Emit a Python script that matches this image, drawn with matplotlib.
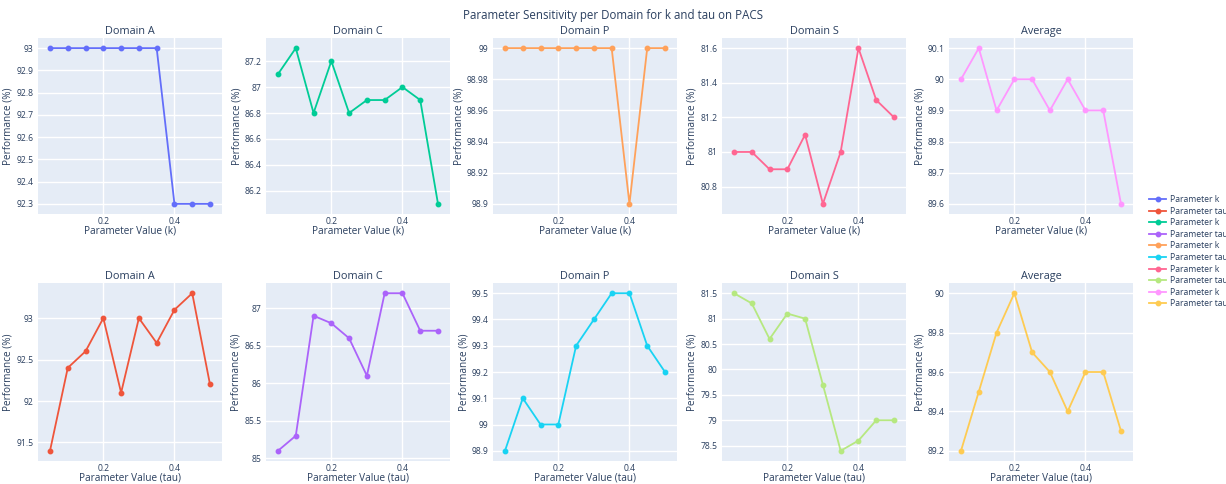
import matplotlib
matplotlib.use('Agg')
import matplotlib.pyplot as plt
from matplotlib.ticker import MultipleLocator, FuncFormatter

plt.rcParams['font.family'] = ['Open Sans', 'DejaVu Sans']

# valores dos parametros
param_x = [0.05, 0.10, 0.15, 0.20, 0.25, 0.30, 0.35, 0.40, 0.45, 0.50]
titulos = ['Domain A', 'Domain C', 'Domain P', 'Domain S', 'Average']

# linha de cima: parametro k
k_A = [93, 93, 93, 93, 93, 93, 93, 92.3, 92.3, 92.3]
k_C = [87.1, 87.3, 86.8, 87.2, 86.8, 86.9, 86.9, 87.0, 86.9, 86.1]
k_P = [99, 99, 99, 99, 99, 99, 99, 98.9, 99, 99]
k_S = [81, 81, 80.9, 80.9, 81.1, 80.7, 81, 81.6, 81.3, 81.2]
k_avg = [90, 90.1, 89.9, 90, 90, 89.9, 90, 89.9, 89.9, 89.6]

# linha de baixo: parametro tau
tau_A = [91.4, 92.4, 92.6, 93, 92.1, 93, 92.7, 93.1, 93.3, 92.2]
tau_C = [85.1, 85.3, 86.9, 86.8, 86.6, 86.1, 87.2, 87.2, 86.7, 86.7]
tau_P = [98.9, 99.1, 99, 99, 99.3, 99.4, 99.5, 99.5, 99.3, 99.2]
tau_S = [81.5, 81.3, 80.6, 81.1, 81, 79.7, 78.4, 78.6, 79, 79]
tau_avg = [89.2, 89.5, 89.8, 90, 89.7, 89.6, 89.4, 89.6, 89.6, 89.3]

dados_k = [k_A, k_C, k_P, k_S, k_avg]
dados_tau = [tau_A, tau_C, tau_P, tau_S, tau_avg]

cores_k = ['#636EFA', '#00CC96', '#FFA15A', '#FF6692', '#FF97FF']
cores_tau = ['#EF553B', '#AB63FA', '#19D3F3', '#B6E880', '#FECB52']

passo_k = [0.1, 0.2, 0.02, 0.2, 0.1]
passo_tau = [0.5, 0.5, 0.1, 0.5, 0.2]

texto = '#2a3f5f'
W, H = 1226, 484
fig = plt.figure(figsize=(W / 100, H / 100), dpi=100)

lefts = [38, 266, 493, 722, 949]
largura = 184
linhas = [(38, 214), (283, 461)]


def fmt(v, pos):
    s = f'{v:.4f}'.rstrip('0').rstrip('.')
    return s


handles = []
for i in range(5):
    for r, (dados, cores, passos, nome, xl) in enumerate([
            (dados_k, cores_k, passo_k, 'Parameter k', 'Parameter Value (k)'),
            (dados_tau, cores_tau, passo_tau, 'Parameter tau', 'Parameter Value (tau)')]):
        top, bot = linhas[r]
        ax = fig.add_axes([lefts[i] / W, 1 - bot / H, largura / W, (bot - top) / H])
        ax.set_facecolor('#E5ECF6')
        for s in ax.spines.values():
            s.set_visible(False)
        ln, = ax.plot(param_x, dados[i], color=cores[i], lw=1.3, marker='o',
                      markersize=3.2, label=nome)
        handles.append(ln)
        ax.margins(x=0.075, y=0.065)
        ax.xaxis.set_major_locator(MultipleLocator(0.2))
        ax.yaxis.set_major_locator(MultipleLocator(passos[i]))
        ax.xaxis.set_major_formatter(FuncFormatter(fmt))
        ax.yaxis.set_major_formatter(FuncFormatter(fmt))
        ax.grid(True, color='white', lw=1)
        ax.set_axisbelow(True)
        ax.tick_params(length=0, labelsize=6.2, colors=texto)
        ax.tick_params(axis='x', pad=2)
        ax.tick_params(axis='y', pad=3)
        ax.set_title(titulos[i], fontsize=7.8, color=texto, pad=3)
        ax.set_xlabel(xl, fontsize=7.2, color=texto, labelpad=0)
        ax.set_ylabel('Performance (%)', fontsize=7.2, color=texto, labelpad=2)

fig.suptitle('Parameter Sensitivity per Domain for k and tau on PACS',
             fontsize=8.3, color=texto, y=1 - 15 / H, va='center')

fig.legend(handles=handles, loc='center left', bbox_to_anchor=(1149 / W, 0.48),
           frameon=False, fontsize=6.2, labelcolor=texto, handlelength=2.0,
           handletextpad=0.4, labelspacing=0.3, borderaxespad=0, borderpad=0)

fig.savefig('out.png', dpi=100)
